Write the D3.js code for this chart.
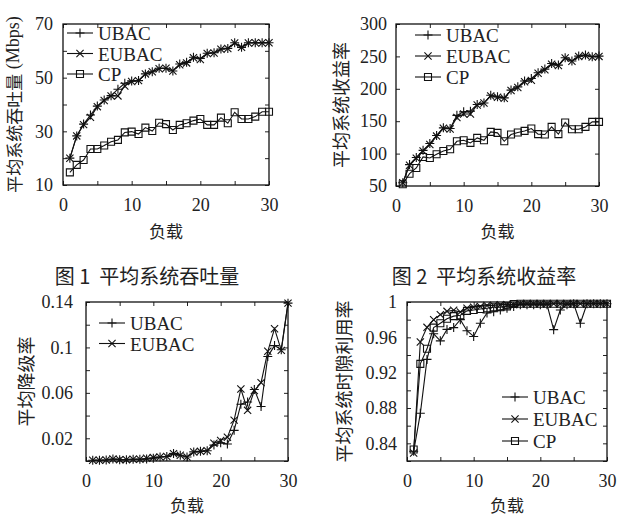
<!DOCTYPE html>
<html>
<head>
<meta charset="utf-8">
<script src="https://cdn.jsdelivr.net/npm/d3@7"></script>
<style>
  html, body { margin: 0; padding: 0; background: #fff; }
  svg { display: block; }
</style>
</head>
<body>
<svg id="chart" width="619" height="516"></svg>
<script>
// ---------------- DATA ----------------
const loads = [1,2,3,4,5,6,7,8,9,10,11,12,13,14,15,16,17,18,19,20,21,22,23,24,25,26,27,28,29,30];

// Fig 1: average system throughput (Mbps)
const thrUBAC  = [20,28.3,32.7,36.1,39.4,41.7,43.3,45.7,47.9,48.8,48.9,51.4,52.2,53.5,53.5,52.5,55.1,55.7,57.6,57.2,59.1,59.3,60.7,60.9,63.0,61.3,63.0,63.0,63.0,63.0];
const thrEUBAC = [20,28.3,32.5,35.2,39.2,41.5,43.2,43.2,46.9,48.6,48.9,51.4,52.2,53.3,53.5,52.5,54.8,55.5,57.4,56.8,59.0,59.2,60.6,60.9,62.9,61.3,62.9,63.0,62.9,63.0];
const thrCP    = [14.7,17.5,19.3,23.4,23.4,24.7,26.1,26.8,29.6,29.9,29.0,31.4,30.1,33.2,32.7,30.5,32.4,33.0,34.0,34.6,32.4,32.4,35.1,33.0,37.1,34.6,34.6,35.5,37.3,37.3];

// Fig 2: average system revenue rate
const revUBAC  = [55,83,94,105,115.5,128,139.7,138.7,159,164.4,165.5,175.8,178,190,187.6,186,198,203,212,216,224.7,230.4,239,236.6,248,242.8,250.5,252,249.5,250.5];
const revEUBAC = [55,82,93,104,114,127,139,138,155.7,161,161,175,178,189,187,185.5,197.5,202,211,213,224,229.5,238,236,247.5,242.5,250,251.5,249,250];
const revCP    = [52.6,69,77.8,94.8,93.3,99,104,106.7,119,120.6,116.5,124.2,120.6,133.5,132,119,129.4,132.5,135,138.7,130,129.4,141.2,130,148,137.6,137.6,141.2,149,149];

// Fig 3: average degradation rate
const degUBAC  = [0.0006,0.0006,0.0009,0.0018,0.0012,0.0012,0.0015,0.0015,0.0018,0.0024,0.0035,0.004,0.0065,0.005,0.0035,0.008,0.0085,0.009,0.014,0.016,0.015,0.027,0.050,0.052,0.063,0.048,0.092,0.1016,0.098,0.139];
const degEUBAC = [0.0006,0.0006,0.0009,0.0018,0.0012,0.0012,0.0015,0.0015,0.0024,0.003,0.0035,0.004,0.0065,0.005,0.0035,0.008,0.0085,0.009,0.0156,0.018,0.021,0.036,0.0634,0.0446,0.062,0.069,0.0966,0.1165,0.0974,0.139];

// Fig 4: average system slot utilisation
const utlUBAC  = [0.831,0.874,0.935,0.964,0.956,0.969,0.971,0.980,0.9675,0.961,0.976,0.9875,0.989,0.991,0.993,0.995,0.997,0.997,0.997,0.997,0.997,0.9687,0.991,0.997,0.998,0.976,0.998,0.998,0.998,0.998];
const utlEUBAC = [0.829,0.9547,0.9713,0.980,0.9857,0.9894,0.9906,0.9887,0.993,0.994,0.995,0.996,0.996,0.997,0.997,0.997,0.998,0.998,0.998,0.998,0.998,0.998,0.998,0.998,0.998,0.998,0.998,0.998,0.998,0.998];
const utlCP    = [0.833,0.930,0.947,0.971,0.976,0.981,0.984,0.985,0.990,0.991,0.992,0.993,0.994,0.994,0.995,0.9977,0.998,0.998,0.998,0.998,0.998,0.998,0.998,0.998,0.998,0.998,0.998,0.998,0.998,0.998];

const seriesNames = ["UBAC", "EUBAC", "CP"];
const xTickLabels = [0, 10, 20, 30];
const xMinorTicks = [0, 5, 10, 15, 20, 25, 30];

const thrYTicks = [10, 20, 30, 40, 50, 60, 70];
const thrYLabels = [10, 30, 50, 70];
const revYTicks = [50, 100, 150, 200, 250, 300];
const revYLabels = [50, 100, 150, 200, 250, 300];
const degYTicks = [0, 0.02, 0.04, 0.06, 0.08, 0.1, 0.12, 0.14];
const degYLabels = [0.02, 0.06, 0.1, 0.14];
const utlYTicks = [0.82, 0.84, 0.86, 0.88, 0.9, 0.92, 0.94, 0.96, 0.98, 1.0];
const utlYLabels = [0.84, 0.88, 0.92, 0.96, 1.0];

const yTitles = ["平均系统吞吐量", "平均系统收益率", "平均降级率", "平均系统时隙利用率"];
const xTitle = "负载";
const captions = ["图 1  平均系统吞吐量", "图 2  平均系统收益率"];

// ---------------- DRAWING ----------------
const svg = d3.select("#chart");
const SERIF = "'Liberation Serif', 'DejaVu Serif', serif";
const CJK = "'Noto Sans CJK SC', sans-serif";

const markerPaths = {
  UBAC: "M-4.5,0H4.5M0,-4.5V4.5",
  EUBAC: "M-3.6,-3.6L3.6,3.6M-3.6,3.6L3.6,-3.6",
  CP: "M-3.5,-3.5H3.5V3.5H-3.5Z"
};

function drawPanel(cfg) {
  const g = svg.append("g");
  const x = d3.scaleLinear().domain([0, 30]).range([cfg.x0, cfg.x1]);
  const y = d3.scaleLinear().domain(cfg.yDomain).range([cfg.y1, cfg.y0]);

  // inward ticks, all four sides
  const tl = 4;
  g.append("g").attr("transform", `translate(0,${cfg.y1})`)
    .call(d3.axisTop(x).tickValues(xMinorTicks).tickSize(tl).tickFormat(""))
    .call(a => a.select(".domain").remove());
  g.append("g").attr("transform", `translate(0,${cfg.y0})`)
    .call(d3.axisBottom(x).tickValues(xMinorTicks).tickSize(tl).tickFormat(""))
    .call(a => a.select(".domain").remove());
  g.append("g").attr("transform", `translate(${cfg.x0},0)`)
    .call(d3.axisRight(y).tickValues(cfg.yTicks).tickSize(tl).tickFormat(""))
    .call(a => a.select(".domain").remove());
  g.append("g").attr("transform", `translate(${cfg.x1},0)`)
    .call(d3.axisLeft(y).tickValues(cfg.yTicks).tickSize(tl).tickFormat(""))
    .call(a => a.select(".domain").remove());
  g.selectAll(".tick line").attr("stroke", "#222").attr("stroke-width", 1);

  // tick labels
  g.append("g").attr("transform", `translate(0,${cfg.y1})`)
    .call(d3.axisBottom(x).tickValues(xTickLabels).tickSize(0).tickPadding(13).tickFormat(d3.format("d")))
    .call(a => a.select(".domain").remove())
    .call(a => a.selectAll("text").attr("font-family", SERIF).attr("font-size", 18).attr("fill", "#222"));
  g.append("g").attr("transform", `translate(${cfg.x0},0)`)
    .call(d3.axisLeft(y).tickValues(cfg.yLabels).tickSize(0).tickPadding(cfg.yPad).tickFormat(cfg.fmt))
    .call(a => a.select(".domain").remove())
    .call(a => a.selectAll("text").attr("font-family", SERIF).attr("font-size", 18).attr("fill", "#222"));

  // frame
  g.append("rect").attr("x", cfg.x0).attr("y", cfg.y0)
    .attr("width", cfg.x1 - cfg.x0).attr("height", cfg.y1 - cfg.y0)
    .attr("fill", "none").attr("stroke", "#111").attr("stroke-width", 1.3);

  // series
  const line = d3.line().x((d, i) => x(loads[i])).y(d => y(d));
  cfg.series.forEach((s, si) => {
    g.append("path").datum(s.values).attr("d", line)
      .attr("fill", "none").attr("stroke", "#111").attr("stroke-width", 1.1);
    g.append("g").selectAll("path").data(s.values).join("path")
      .attr("transform", (d, i) => `translate(${x(loads[i])},${y(d)})`)
      .attr("d", markerPaths[s.name])
      .attr("fill", "none").attr("stroke", "#111").attr("stroke-width", 1.1);
  });

  // legend
  cfg.series.forEach((s, si) => {
    const ly = cfg.legY + si * cfg.legDy;
    g.append("line").attr("x1", cfg.legX).attr("x2", cfg.legX + 26)
      .attr("y1", ly).attr("y2", ly).attr("stroke", "#111").attr("stroke-width", 1.1);
    g.append("path").attr("transform", `translate(${cfg.legX + 13},${ly})`)
      .attr("d", markerPaths[s.name]).attr("fill", "none").attr("stroke", "#111").attr("stroke-width", 1.1);
    g.append("text").attr("x", cfg.legX + 31).attr("y", ly + 7)
      .attr("font-family", SERIF).attr("font-size", 19).attr("fill", "#222").text(s.name);
  });

  // x title
  g.append("text").attr("x", (cfg.x0 + cfg.x1) / 2).attr("y", cfg.xTitleY)
    .attr("text-anchor", "middle").attr("dominant-baseline", "central")
    .attr("font-family", CJK).attr("font-size", 17).attr("fill", "#222").text(xTitle);

  // y title
  const yt = g.append("text")
    .attr("transform", `translate(${cfg.yTitleX},${(cfg.y0 + cfg.y1) / 2}) rotate(-90)`)
    .attr("text-anchor", "middle").attr("dominant-baseline", "central")
    .attr("font-family", CJK).attr("font-size", cfg.yTitleSize).attr("fill", "#222");
  yt.append("tspan").text(cfg.yTitle);
  if (cfg.yUnit) yt.append("tspan").attr("font-family", SERIF).attr("font-size", 18).text(cfg.yUnit);
}

drawPanel({
  x0: 63, x1: 269, y0: 24, y1: 185, yDomain: [10, 70],
  yTicks: thrYTicks, yLabels: thrYLabels, fmt: d3.format("d"), yPad: 10,
  series: [{name: "UBAC", values: thrUBAC}, {name: "EUBAC", values: thrEUBAC}, {name: "CP", values: thrCP}],
  legX: 67, legY: 33, legDy: 20.5, xTitleY: 230,
  yTitleX: 13, yTitle: yTitles[0], yUnit: " (Mbps)", yTitleSize: 17
});
drawPanel({
  x0: 396, x1: 599, y0: 24, y1: 186, yDomain: [50, 300],
  yTicks: revYTicks, yLabels: revYLabels, fmt: d3.format("d"), yPad: 9,
  series: [{name: "UBAC", values: revUBAC}, {name: "EUBAC", values: revEUBAC}, {name: "CP", values: revCP}],
  legX: 415, legY: 35, legDy: 21, xTitleY: 230,
  yTitleX: 340, yTitle: yTitles[1], yTitleSize: 18
});
drawPanel({
  x0: 86, x1: 288, y0: 302, y1: 461, yDomain: [0, 0.14],
  yTicks: degYTicks, yLabels: degYLabels, fmt: d => d3.format("")(+d.toFixed(2)), yPad: 13,
  series: [{name: "UBAC", values: degUBAC}, {name: "EUBAC", values: degEUBAC}],
  legX: 99, legY: 323, legDy: 20.5, xTitleY: 504,
  yTitleX: 25, yTitle: yTitles[2], yTitleSize: 18
});
drawPanel({
  x0: 407, x1: 607, y0: 302, y1: 461, yDomain: [0.82, 1.0],
  yTicks: utlYTicks, yLabels: utlYLabels, fmt: d => d3.format("")(+d.toFixed(2)), yPad: 10,
  series: [{name: "UBAC", values: utlUBAC}, {name: "EUBAC", values: utlEUBAC}, {name: "CP", values: utlCP}],
  legX: 502, legY: 397, legDy: 22, xTitleY: 504,
  yTitleX: 343, yTitle: yTitles[3], yTitleSize: 18
});

// captions
[[147, captions[0]], [484, captions[1]]].forEach(([cx, t]) => {
  svg.append("text").attr("x", cx).attr("y", 275)
    .attr("text-anchor", "middle").attr("dominant-baseline", "central")
    .attr("font-family", CJK).attr("font-size", 20).attr("fill", "#222")
    .attr("xml:space", "preserve").style("white-space", "pre").text(t);
});
</script>
</body>
</html>
